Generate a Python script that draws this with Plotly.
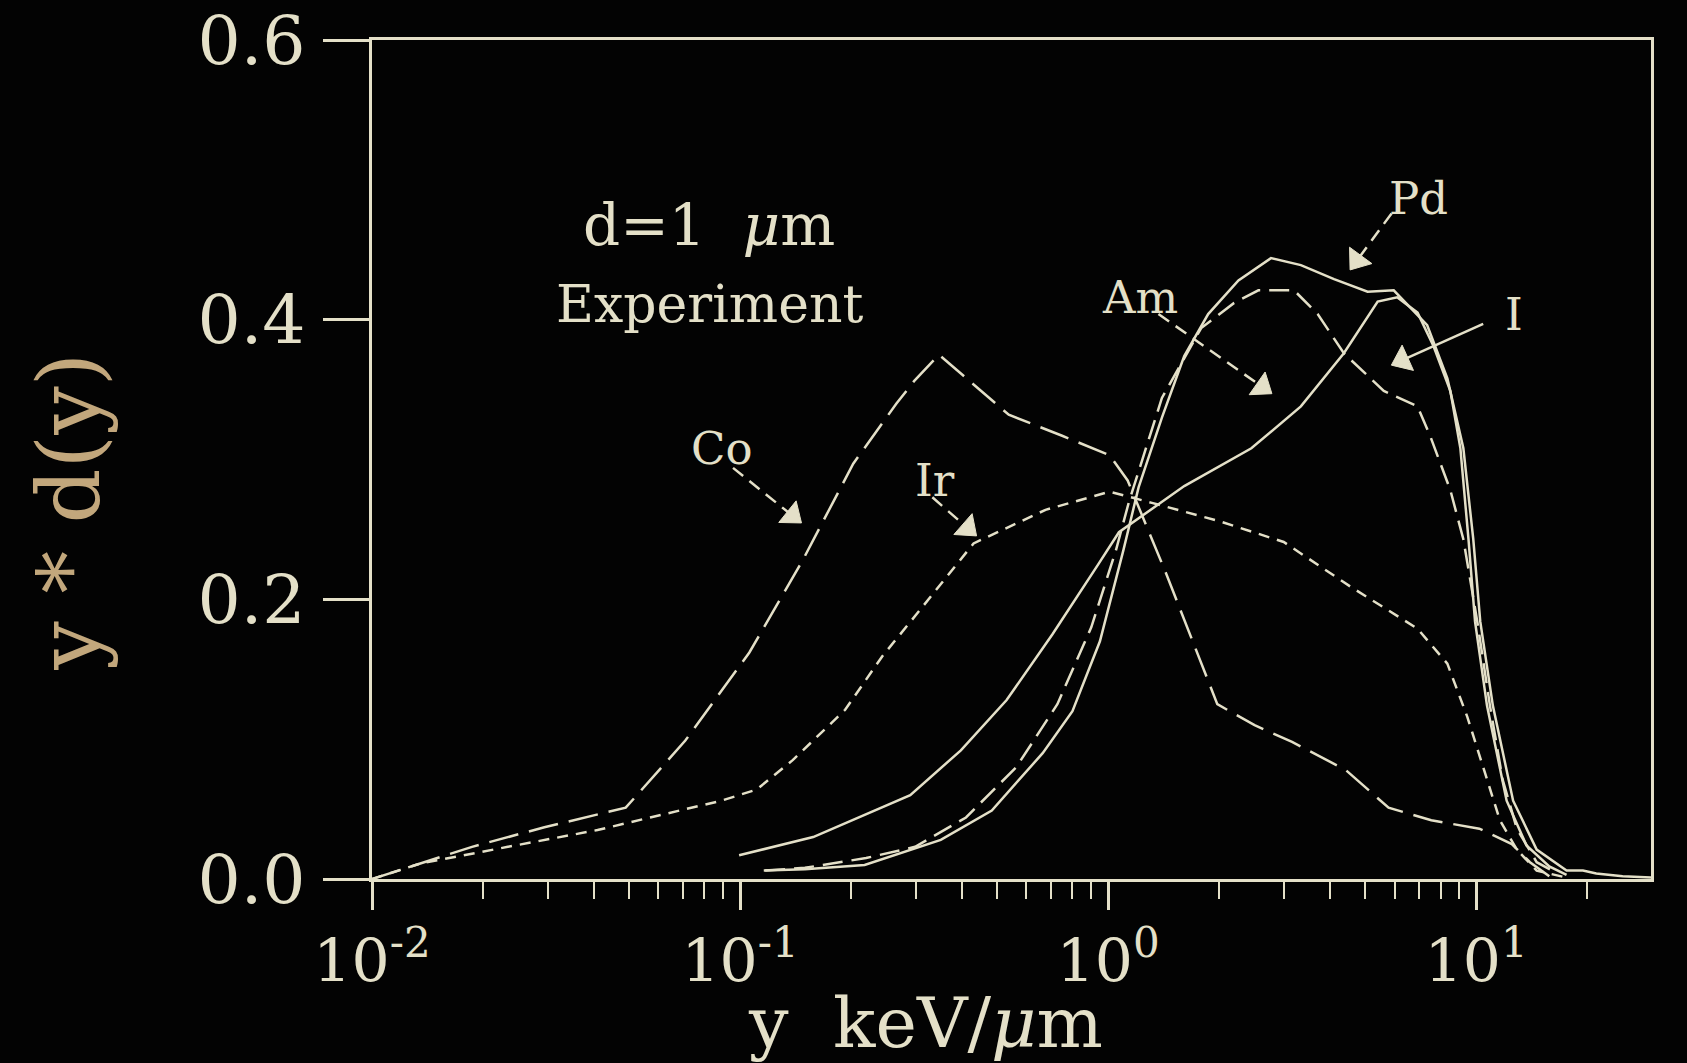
import math
import plotly.graph_objects as go

# ---------------- data ----------------
co_x = [0.01, 0.0187, 0.0294, 0.0489, 0.071, 0.106, 0.148, 0.203, 0.266, 0.297, 0.347,
        0.42, 0.537, 0.75, 1.01, 1.13, 1.44, 1.98, 2.5, 3.16, 4.42, 5.78, 7.55, 10.2,
        12.5, 14.0, 15.8]
co_y = [0.0, 0.023, 0.037, 0.051, 0.099, 0.162, 0.228, 0.297, 0.34, 0.356, 0.375,
        0.356, 0.332, 0.317, 0.303, 0.285, 0.218, 0.125, 0.11, 0.098, 0.078, 0.051,
        0.042, 0.036, 0.025, 0.012, 0.002]

ir_x = [0.01, 0.0135, 0.0234, 0.041, 0.057, 0.089, 0.111, 0.139, 0.193, 0.243, 0.303,
        0.431, 0.676, 1.01, 1.315, 2.0, 3.0, 4.56, 6.93, 8.35, 9.46, 10.45, 11.6,
        12.9, 14.6, 17.6]
ir_y = [0.0, 0.011, 0.023, 0.035, 0.044, 0.056, 0.064, 0.085, 0.121, 0.159, 0.190,
        0.240, 0.264, 0.277, 0.269, 0.256, 0.241, 0.209, 0.179, 0.154, 0.116, 0.080,
        0.042, 0.021, 0.006, 0.001]

am_x = [0.117, 0.15, 0.22, 0.299, 0.411, 0.563, 0.728, 0.9, 1.05, 1.14, 1.4, 1.79,
        2.2, 2.56, 3.2, 3.71, 4.37, 5.61, 6.93, 7.52, 8.51, 9.23, 10.07, 10.9, 11.8,
        12.9, 14.6, 16.6]
am_y = [0.006, 0.008, 0.015, 0.023, 0.044, 0.080, 0.125, 0.18, 0.235, 0.27, 0.344,
        0.394, 0.412, 0.421, 0.421, 0.404, 0.376, 0.349, 0.338, 0.316, 0.278, 0.243,
        0.184, 0.124, 0.071, 0.036, 0.012, 0.004]

pd_x = [0.116, 0.15, 0.218, 0.351, 0.483, 0.664, 0.8, 0.95, 1.1, 1.21, 1.4, 1.61,
        1.87, 2.26, 2.77, 3.34, 4.11, 5.07, 5.97, 7.36, 8.35, 9.23, 9.82, 10.26, 11.1,
        12.6, 14.6, 17.6, 19.5, 21.2, 25.0, 30.0]
pd_y = [0.006, 0.007, 0.010, 0.028, 0.049, 0.09, 0.12, 0.17, 0.235, 0.28, 0.33, 0.374,
        0.404, 0.428, 0.444, 0.439, 0.429, 0.42, 0.421, 0.396, 0.358, 0.308, 0.243,
        0.184, 0.124, 0.056, 0.021, 0.006, 0.006, 0.004, 0.002, 0.001]

i_x = [0.0994, 0.158, 0.29, 0.398, 0.53, 0.706, 0.94, 1.07, 1.61, 2.45, 3.34, 4.37,
       5.4, 6.1, 6.93, 7.66, 8.51, 9.06, 9.53, 9.93, 10.7, 12.1, 13.7, 15.8, 17.6]
i_y = [0.017, 0.030, 0.060, 0.092, 0.128, 0.175, 0.225, 0.248, 0.281, 0.308, 0.338,
       0.376, 0.413, 0.416, 0.405, 0.381, 0.349, 0.308, 0.243, 0.184, 0.124, 0.056,
       0.024, 0.009, 0.003]

x_major = [0.01, 0.1, 1, 10]
x_major_text = ["10<sup>-2</sup>", "10<sup>-1</sup>", "10<sup>0</sup>", "10<sup>1</sup>"]
x_minor = [m * d for d in (0.01, 0.1, 1, 10) for m in range(2, 10) if m * d <= 30]
y_ticks = [0.0, 0.2, 0.4, 0.6]

# curve labels: (text, label x, label y, arrow tail x, tail y, arrow tip x, tip y, dashed)
labels = [
    ("Pd", 6.97, 0.487, 5.89, 0.476, 4.75, 0.4425, True),
    ("Am", 1.22, 0.416, 1.37, 0.404, 2.62, 0.352, True),
    ("I", 12.7, 0.404, 10.45, 0.397, 6.3, 0.371, False),
    ("Co", 0.0893, 0.308, 0.0957, 0.294, 0.1385, 0.260, True),
    ("Ir", 0.339, 0.285, 0.333, 0.273, 0.415, 0.251, True),
]

# ---------------- styling ----------------
FG = "#e4e0c8"
TITLE_Y = "#c2a77c"
BG = "#030303"
FONT = "DejaVu Serif"

fig = go.Figure()
series = [
    ("Co", co_x, co_y, "30px,11px"),
    ("Ir", ir_x, ir_y, "11px,8px"),
    ("Am", am_x, am_y, "20px,9px"),
    ("Pd", pd_x, pd_y, "solid"),
    ("I", i_x, i_y, "solid"),
]
for name, xs, ys, dash in series:
    fig.add_trace(go.Scatter(x=xs, y=ys, mode="lines", name=name,
                             line=dict(color=FG, width=2.5, dash=dash),
                             showlegend=False, hoverinfo="x+y+name"))

annotations = []
for text, lx, ly, tx, ty, px, py, dashed in labels:
    # arrow: dashed (or solid) shaft from tail to tip, triangle head oriented along it
    fig.add_trace(go.Scatter(
        x=[tx, px], y=[ty, py], mode="lines+markers", showlegend=False, hoverinfo="skip",
        line=dict(color=FG, width=2.5, dash="13px,8px" if dashed else "solid"),
        marker=dict(symbol="triangle-up", size=[0, 24], color=FG, opacity=1,
                    angleref="previous", line=dict(width=1, color=FG)),
    ))
    annotations.append(dict(x=math.log10(lx), y=ly, xref="x", yref="y",
                            text=text, showarrow=False,
                            font=dict(family=FONT, size=45, color=FG)))

annotations.append(dict(x=math.log10(0.0825), y=0.468, xref="x", yref="y",
                        text="d=1  <i>μ</i>m", showarrow=False,
                        font=dict(family=FONT, size=58, color=FG)))
annotations.append(dict(x=math.log10(0.0825), y=0.411, xref="x", yref="y",
                        text="Experiment", showarrow=False,
                        font=dict(family=FONT, size=52, color=FG)))
# axis titles
annotations.append(dict(x=-0.237, y=0.4376, xref="paper", yref="paper",
                        text="y * d(y)", textangle=-90, showarrow=False,
                        xanchor="center", yanchor="middle",
                        font=dict(family=FONT, size=86, color=TITLE_Y)))
annotations.append(dict(x=0.433, y=-0.172, xref="paper", yref="paper",
                        text="y  keV/<i>μ</i>m", showarrow=False,
                        xanchor="center", yanchor="middle",
                        font=dict(family=FONT, size=70, color=FG)))

fig.update_layout(
    width=1687, height=1063,
    margin=dict(l=372, r=36, t=40, b=184),
    paper_bgcolor=BG, plot_bgcolor=BG,
    annotations=annotations,
    xaxis=dict(
        type="log", range=[-2, 1.475], automargin=False,
        showline=True, linecolor=FG, linewidth=2.5, mirror=True,
        showgrid=False, zeroline=False,
        ticks="outside", ticklen=28, tickwidth=2.5, tickcolor=FG,
        tickvals=x_major, ticktext=x_major_text,
        tickfont=dict(family=FONT, size=60, color=FG),
        minor=dict(tickvals=x_minor, ticks="outside", ticklen=17, tickwidth=2,
                   tickcolor=FG, showgrid=False),
    ),
    yaxis=dict(
        range=[0, 0.6], automargin=False,
        showline=True, linecolor=FG, linewidth=2.5, mirror=True,
        showgrid=False, zeroline=False,
        ticks="outside", ticklen=46, tickwidth=2.5, tickcolor=FG,
        tickvals=y_ticks, tickformat=".1f",
        tickfont=dict(family=FONT, size=68, color=FG),
        ticklabelstandoff=4, ticklabeloverflow="allow",
    ),
)

fig.write_html("out.html")
